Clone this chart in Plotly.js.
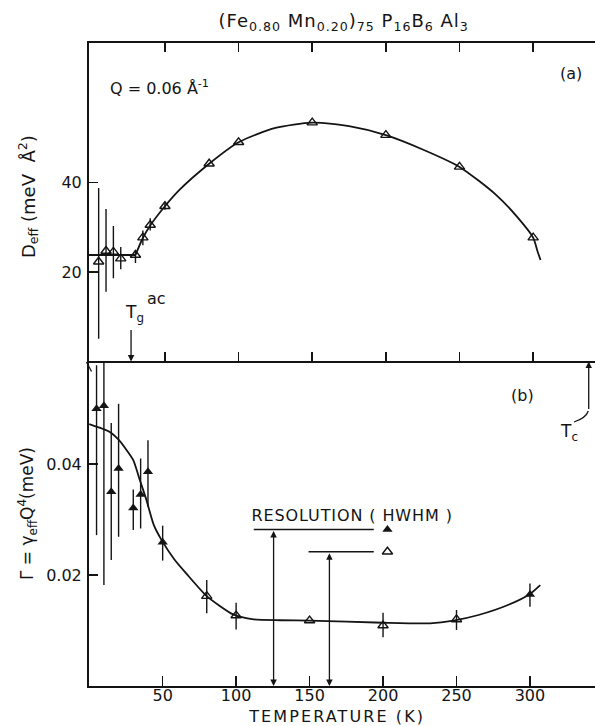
<!DOCTYPE html>
<html>
<head>
<meta charset="utf-8">
<script src="https://cdn.plot.ly/plotly-3.0.1.min.js"></script>
<style>
  html, body { margin: 0; padding: 0; background: #fff; overflow: hidden; }
  #chart { width: 610px; height: 726px; }
</style>
</head>
<body>
<div id="chart"></div>
<script>
// ---- Panel (a): effective spin-wave stiffness D_eff vs temperature ----
const tempD = [5, 10, 15, 20, 30, 35, 40, 50, 80, 100, 150, 200, 250, 300];
const deff = [22.3, 24.7, 24.5, 23.0, 23.8, 27.7, 30.5, 34.7, 44.2, 49.0, 53.4, 50.6, 43.5, 27.7];
const deffErrUp = [16.5, 9.4, 5.8, 2.6, 1.1, 1.6, 1.5, 0.8, 0, 0, 0, 0, 0, 0];
const deffErrDn = [17.2, 9.1, 5.9, 2.4, 1.8, 1.7, 1.2, 0.8, 0, 0, 0, 0, 0, 0];

// guide line through the stiffness data: flat plateau, then smooth curve
const plateauT = [-3, 30];
const plateauD = [23.8, 23.8];
const curveDT = [30, 35, 40, 50, 60, 80, 100, 125, 150, 175, 200, 225, 250, 275, 290, 300, 303, 305];
const curveD = [23.8, 27.6, 30.4, 34.7, 38.4, 44.2, 49.0, 52.2, 53.4, 52.6, 50.6, 47.4, 43.5, 37.2, 32.0, 27.7, 24.6, 22.7];

// ---- Panel (b): damping Gamma = gamma_eff Q^4 vs temperature ----
const tempFilled = [5, 10, 15, 20, 30, 35, 40, 50, 300];
const gammaFilled = [0.0500, 0.0505, 0.0350, 0.0392, 0.0321, 0.0345, 0.0386, 0.0259, 0.0165];
const gammaFilledUp = [0.0078, 0.0120, 0.0124, 0.0117, 0.0033, 0.0065, 0.0057, 0.0030, 0.0020];
const gammaFilledDn = [0.0228, 0.0323, 0.0123, 0.0123, 0.0040, 0.0061, 0.0063, 0.0033, 0.0022];

const tempOpen = [80, 100, 150, 200, 250];
const gammaOpen = [0.0162, 0.0127, 0.0118, 0.0109, 0.0120];
const gammaOpenUp = [0.0029, 0.0023, 0, 0.0023, 0.0017];
const gammaOpenDn = [0.0031, 0.0025, 0, 0.0021, 0.0019];

const curveGT = [0, 14, 20, 25.5, 30, 34.5, 39, 44, 49.5, 58, 66, 80, 98, 112, 130, 150, 200, 232, 248, 265, 285, 300, 307];
const curveG = [0.0472, 0.0458, 0.0444, 0.0425, 0.0407, 0.0371, 0.0335, 0.0290, 0.0262, 0.0228, 0.0203, 0.0162, 0.0129, 0.0120, 0.01185, 0.0118, 0.0114, 0.0113, 0.0118, 0.0128, 0.0146, 0.0166, 0.0182];

// instrumental resolution (HWHM) for filled and open symbols
const resolution = [0.0282, 0.0242];
const resArrowT = [125.5, 163.5];
const resLineStart = [112, 149.3];
const resLineEnd = 193.7;
const resKeyT = 203;

// characteristic temperatures
const tgAC = 27;
const tC = 340;

const tickT = [50, 100, 150, 200, 250, 300];
const tickTLabels = ['50', '100', '150', '200', '250', '300'];

const INK = '#141414';
const FONT = 'DejaVu Sans, sans-serif';

// pixel -> paper helpers for the plot box (left 89, right 604, top 43, bottom 686)
const PX = x => (x - 89) / 515;
const PY = y => (686 - y) / 643;

const errStyle = (up, dn) => ({
  type: 'data', symmetric: false, array: up, arrayminus: dn,
  color: INK, thickness: 1.4, width: 0
});

const traces = [
  { x: plateauT, y: plateauD, xaxis: 'x', yaxis: 'y', mode: 'lines',
    line: { color: INK, width: 1.8 }, hoverinfo: 'skip' },
  { x: curveDT, y: curveD, xaxis: 'x', yaxis: 'y', mode: 'lines',
    line: { color: INK, width: 1.8, shape: 'spline', smoothing: 0.7 }, hoverinfo: 'skip' },
  { x: tempD, y: deff, xaxis: 'x', yaxis: 'y', mode: 'markers',
    marker: { symbol: 'triangle-up-open', size: 9, color: INK, line: { width: 1.4, color: INK } },
    error_y: errStyle(deffErrUp, deffErrDn) },

  { x: curveGT, y: curveG, xaxis: 'x2', yaxis: 'y2', mode: 'lines',
    line: { color: INK, width: 1.8, shape: 'spline', smoothing: 0.6 }, hoverinfo: 'skip' },
  { x: tempFilled, y: gammaFilled, xaxis: 'x2', yaxis: 'y2', mode: 'markers',
    marker: { symbol: 'triangle-up', size: 9, color: INK },
    error_y: errStyle(gammaFilledUp, gammaFilledDn) },
  { x: tempOpen, y: gammaOpen, xaxis: 'x2', yaxis: 'y2', mode: 'markers',
    marker: { symbol: 'triangle-up-open', size: 9, color: INK, line: { width: 1.4, color: INK } },
    error_y: errStyle(gammaOpenUp, gammaOpenDn) },
  // resolution key symbols
  { x: [resKeyT], y: [resolution[0]], xaxis: 'x2', yaxis: 'y2', mode: 'markers',
    marker: { symbol: 'triangle-up', size: 9, color: INK } },
  { x: [resKeyT], y: [resolution[1]], xaxis: 'x2', yaxis: 'y2', mode: 'markers',
    marker: { symbol: 'triangle-up-open', size: 9, color: INK, line: { width: 1.4, color: INK } } }
];

const axisBase = {
  showline: true, linecolor: INK, linewidth: 2,
  ticks: 'inside', ticklen: 9, tickwidth: 1.5, tickcolor: INK,
  showgrid: false, zeroline: false, fixedrange: true
};

// free-standing text placed by its centre
const label = (x, y, text, size, extra) => Object.assign({
  xref: 'paper', yref: 'paper', x: PX(x), y: PY(y),
  xanchor: 'center', yanchor: 'middle', showarrow: false,
  text: text, font: { size: size }
}, extra || {});

const TITLE = '(Fe<sub>0.80</sub> Mn<sub>0.20</sub>)<sub>75</sub> P<sub>16</sub>B<sub>6</sub> Al<sub>3</sub>';
const XLABEL = 'TEMPERATURE (K)';
const RESLABEL = 'RESOLUTION ( HWHM )';

const annotations = [
  label(343, 22, TITLE, 18),
  label(108, 88, 'Q = 0.06 Å<sup>-1</sup>', 16, { xanchor: 'left' }),
  label(571, 73, '(a)', 16),
  label(522, 395, '(b)', 16),
  label(28, 197, 'D<sub>eff</sub> (meV  Å<sup>2</sup>)', 18, { textangle: -90 }),
  label(27, 514, 'Γ = γ<sub>eff</sub>Q<sup>4</sup>(meV)', 17, { textangle: -90 }),
  label(336, 716.6, XLABEL, 16),
  label(352, 515, RESLABEL, 16),
  label(134, 314, 'T<sub>g</sub>', 17),
  label(156, 298, 'ac', 16),
  label(569, 433, 'T<sub>c</sub>', 17),
  // T_g^ac marker arrow on the lower edge of panel (a)
  { xref: 'x', yref: 'y', x: tgAC, y: 0, ax: 0, ay: -33, text: '', showarrow: true,
    arrowhead: 2, arrowsize: 1, arrowwidth: 1.3, arrowcolor: INK },
  // T_c marker arrow on the upper edge of panel (b)
  { xref: 'x2', yref: 'y2', x: tC, y: 0.0585, ax: 0, ay: 49, text: '', showarrow: true,
    arrowhead: 2, arrowsize: 1, arrowwidth: 1.3, arrowcolor: INK }
];

// resolution arrows from the axis up to each HWHM level
resolution.forEach((r, i) => {
  annotations.push({
    xref: 'x2', yref: 'y2', x: resArrowT[i], y: 0,
    axref: 'x2', ayref: 'y2', ax: resArrowT[i], ay: r,
    text: '', showarrow: true, arrowside: 'end+start',
    arrowhead: 2, startarrowhead: 2, arrowsize: 1, startarrowsize: 1,
    arrowwidth: 1.3, arrowcolor: INK
  });
});

const shapes = resolution.map((r, i) => ({
  type: 'line', xref: 'x2', yref: 'y2',
  x0: resLineStart[i], x1: resLineEnd, y0: r, y1: r,
  line: { color: INK, width: 1.4 }
}));
// hook from the T_c arrow to its label
shapes.push({
  type: 'path', xref: 'paper', yref: 'paper',
  path: `M ${PX(588.3)} ${PY(411)} Q ${PX(586)} ${PY(418)} ${PX(574)} ${PY(422)}`,
  line: { color: INK, width: 1.3 }
});
// axis break tick at the upper-left corner of panel (b)
shapes.push({
  type: 'line', xref: 'paper', yref: 'paper',
  x0: PX(86.5), y0: PY(362), x1: PX(91.5), y1: PY(371.5),
  line: { color: INK, width: 1.3 }
});

const layout = {
  width: 610, height: 726,
  margin: { l: 89, r: 6, t: 43, b: 40 },
  paper_bgcolor: '#fff', plot_bgcolor: '#fff',
  showlegend: false,
  font: { family: FONT, size: 16, color: INK },
  xaxis: Object.assign({}, axisBase, {
    domain: [0, 1], anchor: 'y', range: [-1.56, 348.1],
    tickvals: tickT, showticklabels: false, mirror: 'ticks'
  }),
  yaxis: Object.assign({}, axisBase, {
    domain: [0.5047, 1], anchor: 'x', range: [0, 71.2],
    tickvals: [20, 40], ticktext: ['20', '40'], mirror: 'ticks', ticklabelstandoff: 2
  }),
  xaxis2: Object.assign({}, axisBase, {
    domain: [0, 1], anchor: 'y2', range: [-0.14, 350.4], ticklen: 10,
    tickvals: tickT, ticktext: tickTLabels, mirror: false, ticklabelstandoff: -6
  }),
  yaxis2: Object.assign({}, axisBase, {
    domain: [0, 0.5047], anchor: 'x2', range: [0, 0.0585],
    tickvals: [0.02, 0.04], ticktext: ['0.02', '0.04'], mirror: 'ticks', ticklabelstandoff: 2
  }),
  annotations: annotations,
  shapes: shapes
};

// widen the hand-lettered looking captions a little
const spacing = { [XLABEL]: '2.1px', [RESLABEL]: '0.9px' };
Plotly.newPlot('chart', traces, layout, { staticPlot: true, displayModeBar: false }).then(gd => {
  gd.querySelectorAll('.annotation-text').forEach(t => {
    const s = t.textContent;
    if (spacing[s]) t.style.letterSpacing = spacing[s];
    else if (s.startsWith('(Fe')) t.style.letterSpacing = '1px';
  });
});
</script>
</body>
</html>
